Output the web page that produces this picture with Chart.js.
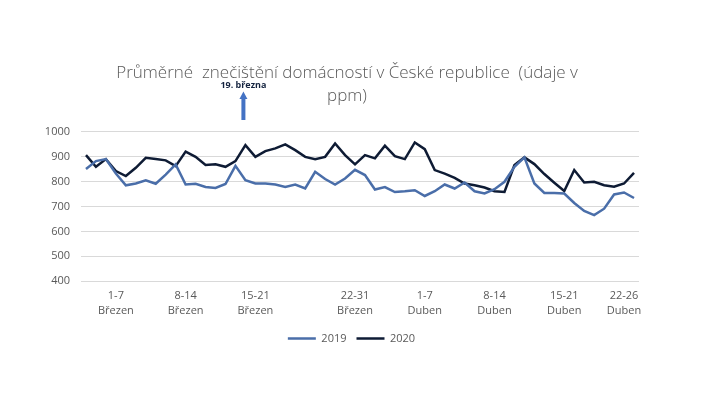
<!doctype html>
<html lang="cs">
<head>
    <meta charset="utf-8">
    <title>Průměrné znečištění domácností v České republice</title>
    <style>
        * {
            margin: 0;
            padding: 0;
        }

        body {
            background: #fff;
        }

        #myChart {
            display: block;
        }
    </style>
</head>
<body>
<canvas id="myChart" width="720" height="405"></canvas>
<script src="https://cdn.jsdelivr.net/npm/chart.js"></script>
<script>
    // data (1. března - 26. dubna)
    const values2019 = [850, 882, 890, 832, 785, 792, 805, 791, 828, 869, 788, 791, 778, 774,
        790, 863, 805, 792, 792, 788, 778, 788, 772, 839, 810, 788, 812, 847,
        826, 768, 778, 758, 761, 765, 742, 761, 788, 772, 796, 761, 752, 769,
        799, 859, 897, 792, 754, 754, 752, 714, 682, 665, 691, 748, 756, 734];
    const values2020 = [906, 859, 890, 842, 822, 855, 895, 890, 885, 862, 920, 899, 866, 869,
        859, 882, 946, 899, 922, 933, 949, 926, 899, 890, 899, 953, 906, 869,
        906, 893, 944, 902, 890, 957, 930, 846, 832, 815, 792, 785, 776, 761,
        758, 866, 897, 870, 830, 795, 762, 846, 796, 799, 785, 779, 792, 835];
    const tickIdx = [3, 10, 17, 27, 34, 41, 48, 54];
    const tickLabels = [['1-7', 'Březen'], ['8-14', 'Březen'], ['15-21', 'Březen'], ['22-31', 'Březen'],
        ['1-7', 'Duben'], ['8-14', 'Duben'], ['15-21', 'Duben'], ['22-26', 'Duben']];
    const yTicks = [400, 500, 600, 700, 800, 900, 1000];
    const titleLines = ['Průměrné  znečištění domácností v České republice  (údaje v', 'ppm)'];
    const markIdx = 16;
    const markText = '19. března';

    const labels = values2019.map((v, i) => {
        const k = tickIdx.indexOf(i);
        return k >= 0 ? tickLabels[k] : '';
    });

    const grey = '#595959';
    const font = '"Open Sans", "Noto Sans", sans-serif';

    // title + arrow, legend nudged to the right like in the original
    const extras = {
        id: 'extras',
        afterUpdate(chart) {
            chart.legend.left += 32;
            chart.legend.right += 32;
        },
        afterDraw(chart) {
            const {ctx, scales: {x}} = chart;
            ctx.save();
            ctx.fillStyle = grey;
            ctx.font = '300 17px ' + font;
            ctx.textAlign = 'center';
            ctx.textBaseline = 'middle';
            ctx.fillText(titleLines[0], 347, 73);
            ctx.fillText(titleLines[1], 347, 96);

            const ax = x.getPixelForValue(markIdx) - 2;
            ctx.fillStyle = '#14233f';
            ctx.font = 'bold 9px ' + font;
            ctx.fillText(markText, ax, 85);

            ctx.fillStyle = '#4472c4';
            ctx.fillRect(ax - 2, 98, 4, 22);
            ctx.beginPath();
            ctx.moveTo(ax, 91.5);
            ctx.lineTo(ax + 4, 99);
            ctx.lineTo(ax - 4, 99);
            ctx.closePath();
            ctx.fill();
            ctx.restore();
        }
    };

    const config = {
        type: 'line',
        data: {
            labels: labels,
            datasets: [{
                label: '2019',
                data: values2019,
                borderColor: '#4a6ea9',
                backgroundColor: '#4a6ea9',
                borderWidth: 2.5,
                pointRadius: 0,
                tension: 0
            }, {
                label: '2020',
                data: values2020,
                borderColor: '#0e1b34',
                backgroundColor: '#0e1b34',
                borderWidth: 2.5,
                pointRadius: 0,
                tension: 0
            }]
        },
        options: {
            responsive: false,
            animation: false,
            layout: {
                padding: {left: 0, right: 81, top: 131.7, bottom: 51}
            },
            plugins: {
                legend: {
                    position: 'bottom',
                    labels: {
                        usePointStyle: true,
                        pointStyle: 'line',
                        pointStyleWidth: 28,
                        boxHeight: 11,
                        padding: 10,
                        color: grey,
                        font: {family: font, size: 11}
                    }
                },
                tooltip: {enabled: false}
            },
            scales: {
                x: {
                    offset: true,
                    grid: {display: false, drawTicks: false},
                    border: {display: false},
                    ticks: {
                        autoSkip: false,
                        maxRotation: 0,
                        padding: 6.5,
                        color: grey,
                        font: {family: font, size: 11, lineHeight: 1.4}
                    },
                    afterFit(scale) {
                        scale.height = 41.8;
                    }
                },
                y: {
                    min: 400,
                    max: 1000,
                    afterBuildTicks(scale) {
                        scale.ticks = yTicks.map(v => ({value: v}));
                    },
                    grid: {color: '#d9d9d9', drawTicks: false},
                    border: {display: false},
                    ticks: {
                        padding: 11,
                        color: grey,
                        font: {family: font, size: 11},
                        callback: v => String(v)
                    },
                    afterFit(scale) {
                        scale.width = 81;
                    }
                }
            }
        },
        plugins: [extras]
    };

    const myChart = new Chart(document.getElementById('myChart'), config);
</script>
</body>
</html>
